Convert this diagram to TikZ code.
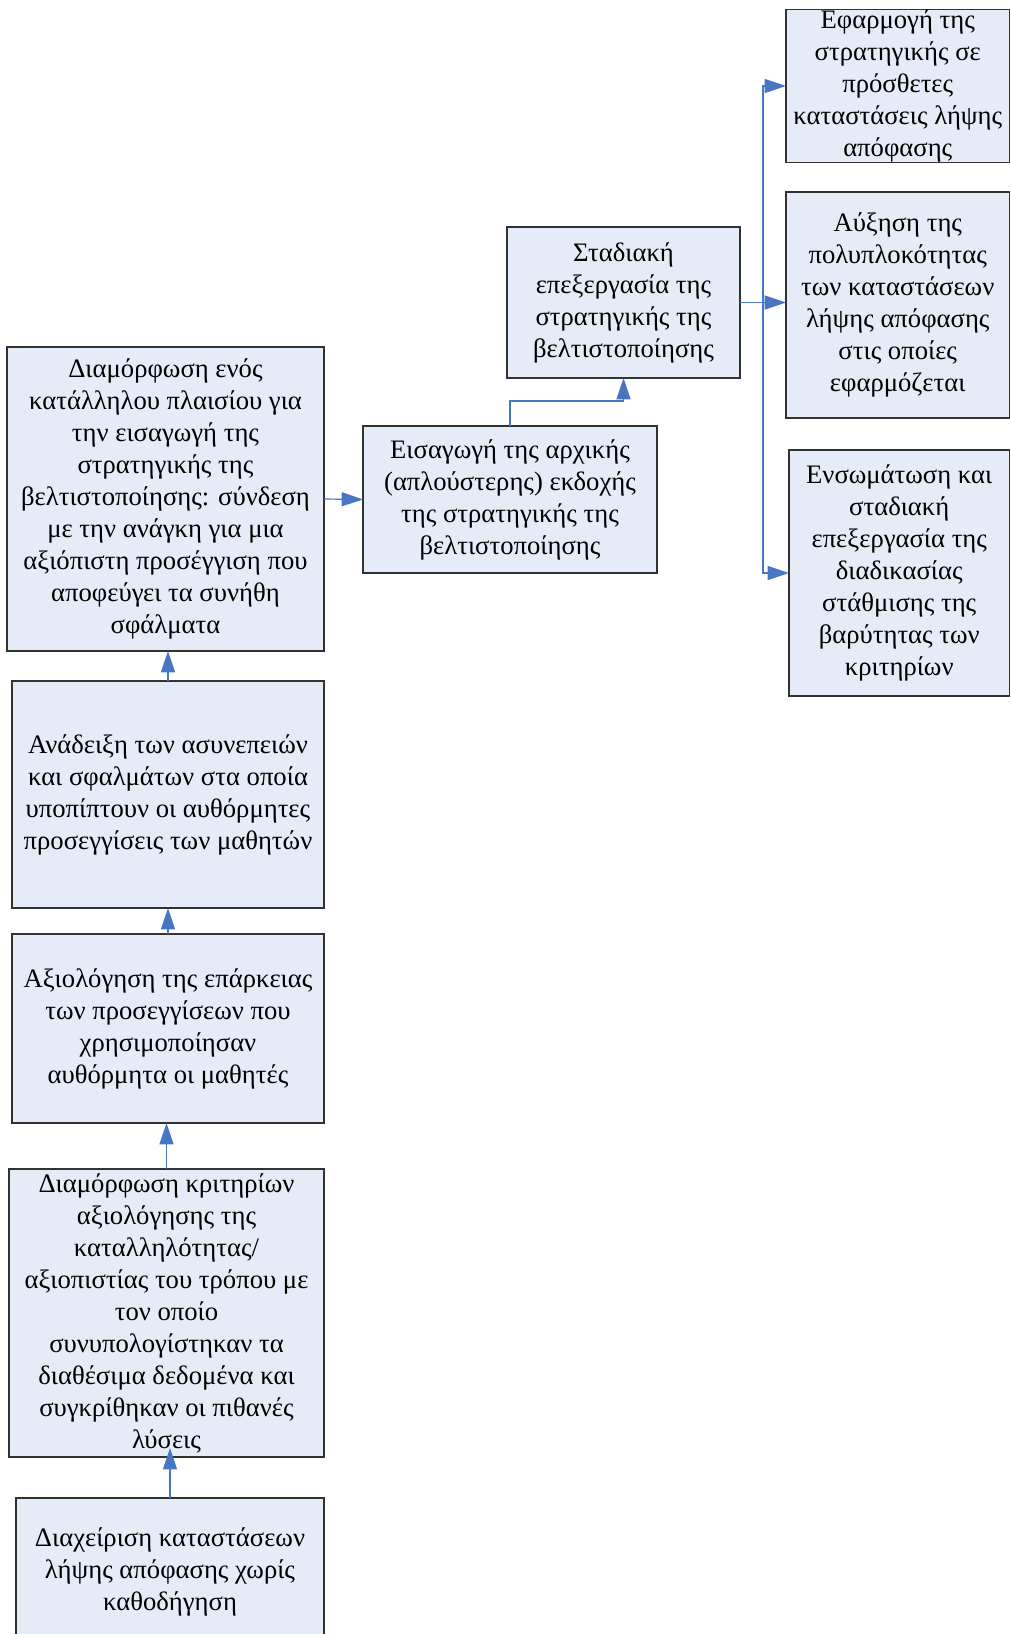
\documentclass[tikz,border=0pt]{standalone}
\usepackage{fontspec}
\setmainfont{Liberation Serif}
\usetikzlibrary{arrows.meta,calc}
\definecolor{boxfill}{RGB}{230,236,247}
\definecolor{boxline}{RGB}{50,50,50}
\definecolor{link}{RGB}{72,118,196}
\tikzset{
  stage/.style={draw=boxline, line width=0.9pt, fill=boxfill, inner sep=0pt,
    outer sep=0pt, align=center, font=\fontsize{20}{24}\selectfont},
  conn/.style={draw=link, line width=0.9pt,
    -{Triangle[length=16pt,width=10.5pt]}},
}
\begin{document}
\begin{tikzpicture}[x=0.75pt,y=-0.75pt]
\useasboundingbox (0,0) rectangle (1010,1634);
\clip (0,0) rectangle (1010,1634);

% left column, read from the bottom up
\node[stage, minimum width=231pt, minimum height=110.25pt] (J) at (170,1571.5)
  {Διαχείριση καταστάσεων\\λήψης απόφασης χωρίς\\καθοδήγηση};
\node[stage, minimum width=236.25pt, minimum height=216pt] (I) at (166.5,1313)
  {Διαμόρφωση κριτηρίων\\αξιολόγησης της\\καταλληλότητας/\\αξιοπιστίας του τρόπου με\\τον οποίο\\συνυπολογίστηκαν τα\\διαθέσιμα δεδομένα και\\συγκρίθηκαν οι πιθανές\\λύσεις};
\node[stage, minimum width=234pt, minimum height=141.75pt] (H) at (168,1028.5)
  {Αξιολόγηση της επάρκειας\\των προσεγγίσεων που\\χρησιμοποίησαν\\αυθόρμητα οι μαθητές};
\node[stage, minimum width=234pt, minimum height=170.25pt] (G) at (168,794.5)
  {Ανάδειξη των ασυνεπειών\\και σφαλμάτων στα οποία\\υποπίπτουν οι αυθόρμητες\\προσεγγίσεις των μαθητών};
\node[stage, minimum width=237.75pt, minimum height=228pt] (A) at (165.5,499)
  {Διαμόρφωση ενός\\κατάλληλου πλαισίου για\\την εισαγωγή της\\στρατηγικής της\\βελτιστοποίησης: σύνδεση\\με την ανάγκη για μια\\αξιόπιστη προσέγγιση που\\αποφεύγει τα συνήθη\\σφάλματα};

% middle
\node[stage, minimum width=220.5pt, minimum height=110.25pt] (B) at (510,499.5)
  {Εισαγωγή της αρχικής\\(απλούστερης) εκδοχής\\της στρατηγικής της\\βελτιστοποίησης};
\node[stage, minimum width=174.75pt, minimum height=113.25pt] (C) at (623.5,302.5)
  {Σταδιακή\\επεξεργασία της\\στρατηγικής της\\βελτιστοποίησης};

% right column
\node[stage, minimum width=167.6pt, minimum height=114pt] (D) at (897.75,86)
  {Εφαρμογή της\\στρατηγικής σε\\πρόσθετες\\καταστάσεις λήψης\\απόφασης};
\node[stage, minimum width=167.6pt, minimum height=169.5pt] (E) at (897.75,305)
  {Αύξηση της\\πολυπλοκότητας\\των καταστάσεων\\λήψης απόφασης\\στις οποίες\\εφαρμόζεται};
\node[stage, minimum width=165.4pt, minimum height=184.5pt] (F) at (899.25,573)
  {Ενσωμάτωση και\\σταδιακή\\επεξεργασία της\\διαδικασίας\\στάθμισης της\\βαρύτητας των\\κριτηρίων};

% connectors
\draw[conn] (J.north) -- ($(J.north |- I.south)+(0,-9)$);
\draw[conn] (I.north) -- (I.north |- H.south);
\draw[conn] (H.north) -- (H.north |- G.south);
\draw[conn] (G.north) -- (G.north |- A.south);
\draw[conn] (A.east) -- (B.west);
\draw[conn] (B.north) -- ++(0,-25) -| (C.south);
\coordinate (bus) at (763,302.5);
\draw[conn] (C.east) -- (E.west |- C.east);
\draw[conn] (bus) |- (D.west);
\draw[conn] (bus) |- (F.west);
\end{tikzpicture}
\end{document}
